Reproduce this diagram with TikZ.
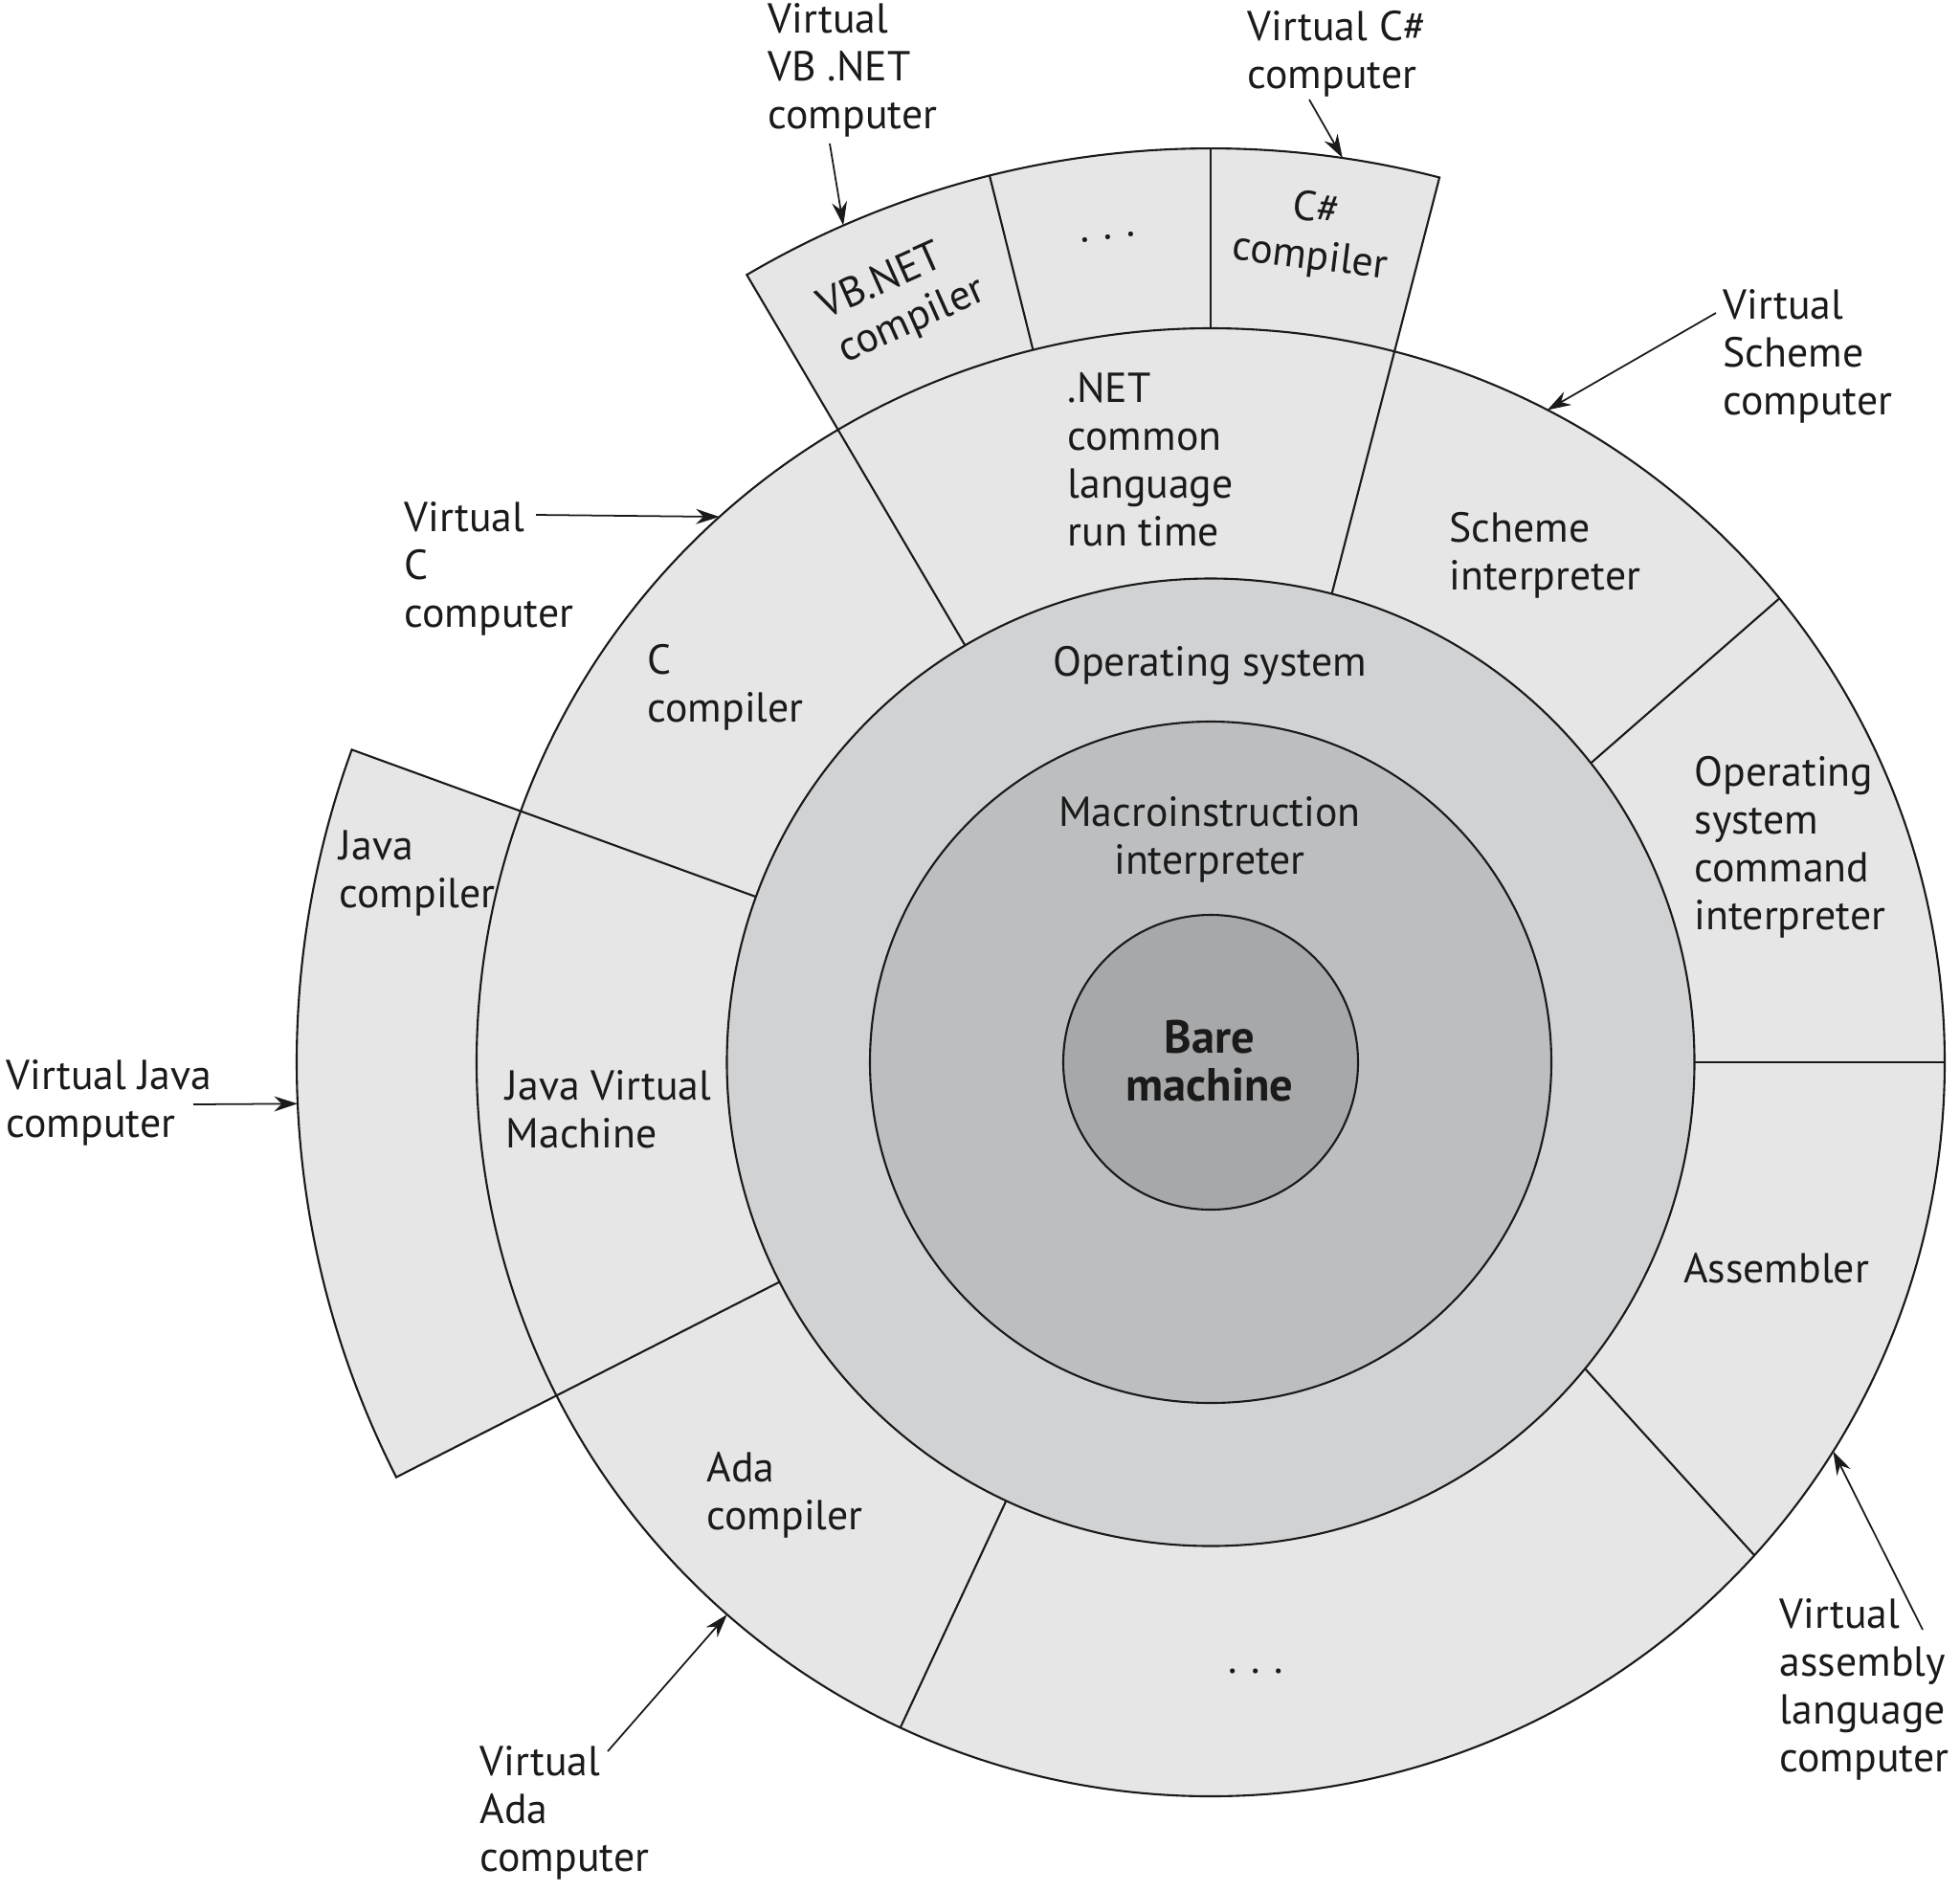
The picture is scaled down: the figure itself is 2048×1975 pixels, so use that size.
\documentclass[tikz,border=0pt]{standalone}
\usepackage{fontspec}
\setmainfont{PT Sans}
\usetikzlibrary{arrows.meta}
\definecolor{ringA}{HTML}{E6E6E6}
\definecolor{ringB}{HTML}{D1D2D4}
\definecolor{ringC}{HTML}{BDBEC0}
\definecolor{ringD}{HTML}{A7A8AA}
\definecolor{ink}{HTML}{1A1A1A}
\begin{document}
\begin{tikzpicture}[x=0.01cm, y=-0.01cm,
  lbl/.style={font=\fontsize{12.45pt}{14.2pt}\selectfont, inner sep=0pt, align=left, anchor=west, text=ink},
  ctr/.style={lbl, anchor=center, align=center},
  edge/.style={line width=0.6pt, draw=ink},
  pointer/.style={line width=0.5pt, draw=ink, -{Stealth[length=7pt, width=4.5pt]}},
]
\useasboundingbox (0,0) rectangle (2048,1975);

% ---- rings and sectors, drawn around the common centre (y axis up) ----
\begin{scope}[shift={(1265,1110)}, y=0.01cm]
  % fills: outer ring and the two protruding compiler sectors
  \fill[ringA] (160:505.5) -- (160:955) arc[start angle=160, end angle=207, radius=955] -- (207:505.5) -- cycle;
  \fill[ringA] (75.5:505.5) -- (75.5:955) arc[start angle=75.5, end angle=120.5, radius=955] -- (120.5:505.5) -- cycle;
  \fill[ringA] (0,0) circle[radius=767];
  % outlines of the outer ring
  \draw[edge] (0,0) circle[radius=767];
  \draw[edge] (160:505.5) -- (160:955) arc[start angle=160, end angle=207, radius=955] -- (207:505.5);
  \draw[edge] (120.5:505.5) -- (120.5:955) arc[start angle=120.5, end angle=75.5, radius=955] -- (75.5:505.5);
  \draw[edge] (104:767) -- (104:955);
  \draw[edge] (90:767) -- (90:955);
  \draw[edge] (38.2:505.5) -- (39.2:767);
  \draw[edge] (0:505.5) -- (0:767);
  \draw[edge] (-39.3:505.5) -- (-42.2:767);
  \draw[edge] (245:505.5) -- (245:767);
  % inner layers
  \draw[edge, fill=ringB] (0,0) circle[radius=505.5];
  \draw[edge, fill=ringC] (0,0) circle[radius=356];
  \draw[edge, fill=ringD] (0,0) circle[radius=154];
  % points where the pointers touch the rings
  \coordinate (tipVB) at (113.7:955);
  \coordinate (tipCS) at (81.7:955);
  \coordinate (tipScheme) at (62.7:767);
  \coordinate (tipC) at (132:767);
  \coordinate (tipJava) at (182.6:955);
  \coordinate (tipAda) at (228.8:767);
  \coordinate (tipAsm) at (-32:767);
\end{scope}

% ---- texts inside the layers ----
\node[ctr, font=\fontsize{13.8pt}{14.2pt}\selectfont\bfseries] (bare) at (1264,1109) {Bare\\machine};
\node[ctr] (macro) at (1264,877) {Macroinstruction\\interpreter};
\node[ctr] (os) at (1264,696) {Operating system};
\node[lbl] (netclr) at (1115,480) {.NET\\common\\language\\run time};
\node[lbl] (scheme) at (1514,580) {Scheme\\interpreter};
\node[lbl] (oscmd) at (1770,885) {Operating\\system\\command\\interpreter};
\node[ctr] (asm) at (1856,1325) {Assembler};
\node[ctr] (dotsB) at (1312,1746) {.\,\,.\,\,.};
\node[lbl] (ada) at (738,1562) {Ada\\compiler};
\node[lbl] (jvm) at (528,1159) {Java Virtual\\Machine};
\node[lbl] (javac) at (354,913) {Java\\compiler};
\node[lbl] (ccomp) at (676,718) {C\\compiler};
\node[lbl, rotate=24, anchor=center] (vbnet) at (943,313) {VB.NET\\compiler};
\node[ctr, rotate=7] (dotsT) at (1158,248) {.\,\,.\,\,.};
\node[ctr, rotate=-7] (csc) at (1372,245) {C\#\\compiler};

% ---- outside labels and their pointers ----
\node[lbl] (lblVB) at (802,73) {Virtual\\VB .NET\\computer};
\node[lbl] (lblCS) at (1303,56) {Virtual C\#\\computer};
\node[lbl] (lblScheme) at (1800,372) {Virtual\\Scheme\\computer};
\node[lbl] (lblC) at (422,594) {Virtual\\C\\computer};
\node[lbl] (lblJava) at (6,1152) {Virtual Java\\computer};
\node[lbl] (lblAda) at (501,1894) {Virtual\\Ada\\computer};
\node[lbl] (lblAsm) at (1859,1765) {Virtual\\assembly\\language\\computer};

\coordinate (tailVB) at (867,150);
\coordinate (tailCS) at (1368,104);
\coordinate (tailScheme) at (1793,327);
\coordinate (tailC) at (560,538);
\coordinate (tailJava) at (202,1154);
\coordinate (tailAda) at (635,1830);
\coordinate (tailAsm) at (2009,1703);

\draw[pointer] (tailVB) -- (tipVB);
\draw[pointer] (tailCS) -- (tipCS);
\draw[pointer] (tailScheme) -- (tipScheme);
\draw[pointer] (tailC) -- (tipC);
\draw[pointer] (tailJava) -- (tipJava);
\draw[pointer] (tailAda) -- (tipAda);
\draw[pointer] (tailAsm) -- (tipAsm);
\end{tikzpicture}
\end{document}
